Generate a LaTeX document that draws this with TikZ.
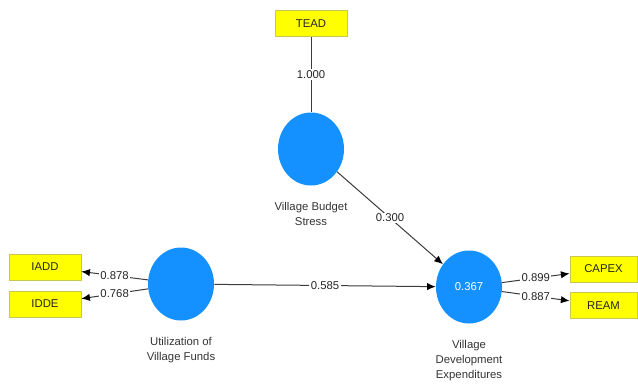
\documentclass[tikz,border=0pt]{standalone}
\usepackage{fontspec}
\setmainfont{Liberation Sans}
\usepackage{xcolor}
\usetikzlibrary{shapes.geometric,arrows.meta,positioning}

\definecolor{lvblue}{RGB}{20,145,255}
\definecolor{mvyellow}{RGB}{255,255,0}
\definecolor{mvline}{RGB}{200,200,80}
\definecolor{pathgray}{RGB}{60,60,60}

\begin{document}
\begin{tikzpicture}[
  x=0.75pt, y=-0.75pt,
  lv/.style={ellipse, fill=lvblue, minimum width=49.5pt, minimum height=54.75pt, inner sep=0pt, font=\fontsize{8.5}{10}\selectfont, text=white},
  mv/.style={draw=mvline, fill=mvyellow, minimum width=54pt, minimum height=19.5pt, inner sep=0pt, font=\fontsize{8.5}{10}\selectfont, text=black!85},
  lvname/.style={align=center, font=\fontsize{8.5}{11.5}\selectfont, text=black!80, inner sep=1pt},
  coef/.style={fill=white, inner sep=1pt, font=\fontsize{8.5}{10}\selectfont, text=black!85},
  lnk/.style={draw=pathgray, line width=0.75pt},
  arr/.style={lnk, -{Latex[length=6.5pt,width=5.5pt,black]}}
]
\useasboundingbox (0,0) rectangle (638,383);

% latent variables
\node[lv] (vbs) at (311,149) {};
\node[lv] (uvf) at (181,284) {};
\node[lv] (vde) at (469,287) {0.367};

\node[lvname, below=11pt of vbs] (vbsname) {Village Budget\\Stress};
\node[lvname, below=11pt of uvf] (uvfname) {Utilization of\\Village Funds};
\node[lvname, below=11pt of vde] (vdename) {Village\\Development\\Expenditures};

% indicators
\node[mv] (tead) at (311,23.5) {TEAD};
\node[mv] (iadd) at (45,267) {IADD};
\node[mv] (idde) at (45,304) {IDDE};
\node[mv, minimum width=50.5pt] (capex) at (603.5,269) {CAPEX};
\node[mv, minimum width=50.5pt] (ream) at (603.5,305.5) {REAM};

% outer model
\draw[lnk] (tead) -- node[coef]{1.000} (vbs);
\draw[arr] (uvf) -- node[coef]{0.878} (iadd);
\draw[arr] (uvf) -- node[coef]{0.768} (idde);
\draw[arr] (vde) -- node[coef]{0.899} (capex);
\draw[arr] (vde) -- node[coef]{0.887} (ream);

% inner model
\draw[arr] (vbs) -- node[coef]{0.300} (vde);
\draw[arr] (uvf) -- node[coef]{0.585} (vde);
\end{tikzpicture}
\end{document}
